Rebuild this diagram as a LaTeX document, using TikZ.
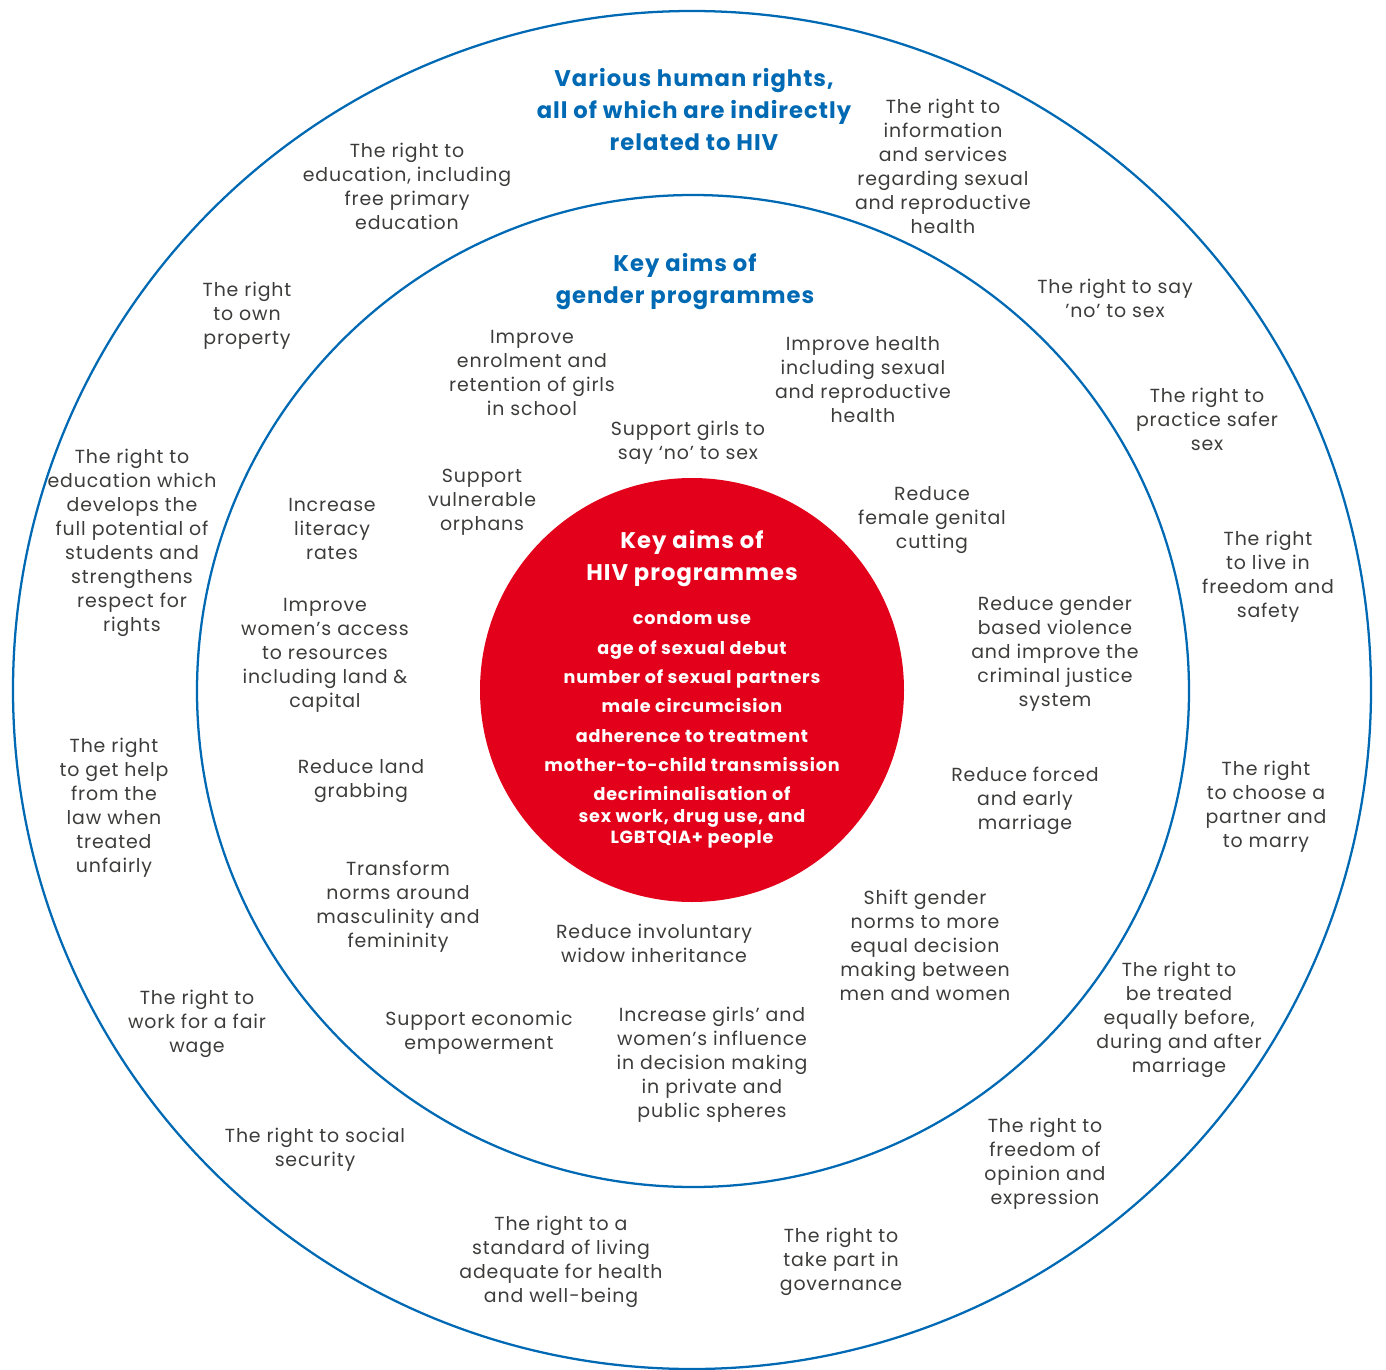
\documentclass[tikz,border=0pt]{standalone}
\usepackage{fontspec}
\setmainfont{Poppins}[LetterSpace=4.5]
\definecolor{ringblue}{HTML}{0069B4}
\definecolor{hivred}{HTML}{E2001A}
\definecolor{txtgray}{HTML}{3C3C3B}
\begin{document}
\begin{tikzpicture}[
x=0.75pt, y=-0.75pt,
ring/.style={draw=ringblue, line width=1.7pt},
aim/.style={align=center, text=txtgray, inner sep=0pt, font=\fontsize{14.2}{18}\selectfont},
bluehead/.style={align=center, text=ringblue, inner sep=0pt, font=\bfseries\fontsize{17}{24}\selectfont},
redhead/.style={align=center, text=white, inner sep=0pt, font=\bfseries\fontsize{17}{24}\selectfont},
reditem/.style={align=center, text=white, inner sep=0pt, font=\bfseries\fontsize{13.2}{16}\selectfont}
]
\useasboundingbox (0,0) rectangle (1386,1370);

% rings
\draw[ring] (692,690) circle[radius=679];
\draw[ring] (693,691) circle[radius=496];
\fill[hivred] (692,690) circle[radius=212];

% outer ring: human rights
\node[bluehead] (rights) at (694,110) {Various human rights,\\all of which are indirectly\\related to HIV};
\node[aim] (education) at (407,186) {The right to\\education, including\\free primary\\education};
\node[aim] (info) at (943,166) {The right to\\information\\and services\\regarding sexual\\and reproductive\\health};
\node[aim] (sayno) at (1115,298) {The right to say\\'no' to sex};
\node[aim] (safersex) at (1207,419) {The right to\\practice safer\\sex};
\node[aim] (freedom) at (1268,577) {The right\\to live in\\freedom and\\safety};
\node[aim] (partner) at (1266,807) {The right\\to choose a\\partner and\\to marry};
\node[aim] (equal) at (1179,1020) {The right to\\be treated\\equally before,\\during and after\\marriage};
\node[aim] (opinion) at (1045,1164) {The right to\\freedom of\\opinion and\\expression};
\node[aim] (governance) at (841,1262) {The right to\\take part in\\governance};
\node[aim] (living) at (561,1262) {The right to a\\standard of living\\adequate for health\\and well-being};
\node[aim] (social) at (315,1150) {The right to social\\security};
\node[aim] (wage) at (197,1024) {The right to\\work for a fair\\wage};
\node[aim] (law) at (114,808) {The right\\to get help\\from the\\law when\\treated\\unfairly};
\node[aim] (potential) at (132,543) {The right to\\education which\\develops the\\full potential of\\students and\\strengthens\\respect for\\rights};
\node[aim] (property) at (247,316) {The right\\to own\\property};

% middle ring: gender programmes
\node[bluehead] (gender) at (685,282) {Key aims of\\gender programmes};
\node[aim] (school) at (532,373) {Improve\\enrolment and\\retention of girls\\in school};
\node[aim] (health) at (863,380) {Improve health\\including sexual\\and reproductive\\health};
\node[aim] (girlsno) at (688,443) {Support girls to\\say ‘no’ to sex};
\node[aim] (orphans) at (482,502) {Support\\vulnerable\\orphans};
\node[aim] (literacy) at (332,529) {Increase\\literacy\\rates};
\node[aim] (cutting) at (932,520) {Reduce\\female genital\\cutting};
\node[aim] (resources) at (325,655) {Improve\\women’s access\\to resources\\including land \&\\capital};
\node[aim] (violence) at (1055,654) {Reduce gender\\based violence\\and improve the\\criminal justice\\system};
\node[aim] (land) at (361,781) {Reduce land\\grabbing};
\node[aim] (marriage) at (1025,801) {Reduce forced\\and early\\marriage};
\node[aim] (norms) at (398,907) {Transform\\norms around\\masculinity and\\femininity};
\node[aim] (decision) at (925,945) {Shift gender\\norms to more\\equal decision\\making between\\men and women};
\node[aim] (widow) at (654,943) {Reduce involuntary\\widow inheritance};
\node[aim] (economic) at (479,1033) {Support economic\\empowerment};
\node[aim] (influence) at (712,1065) {Increase girls’ and\\women’s influence\\in decision making\\in private and\\public spheres};

% inner circle: HIV programmes
\node[redhead] (hiv) at (692,559) {Key aims of\\HIV programmes};
\node[reditem] (hivaims) at (692,730) {condom use\\[6pt]
age of sexual debut\\[6pt]
number of sexual partners\\[6pt]
male circumcision\\[6pt]
adherence to treatment\\[6pt]
mother-to-child transmission\\[6pt]
decriminalisation of\\
sex work, drug use, and\\
LGBTQIA+ people};

\end{tikzpicture}
\end{document}
